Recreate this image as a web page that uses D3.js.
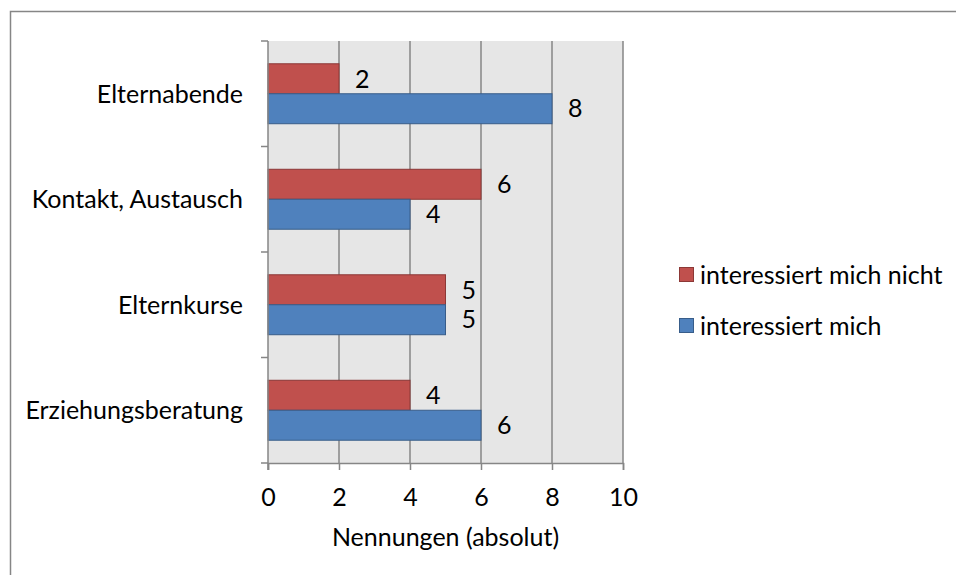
<!DOCTYPE html>
<html>
<head>
<meta charset="utf-8">
<script src="https://cdn.jsdelivr.net/npm/d3@7"></script>
<style>
  body { margin: 0; background: #fff; }
  text { font-family: Lato, "Open Sans", sans-serif; fill: #000; }
</style>
</head>
<body>
<div id="chart"></div>
<script>
const categories = ["Elternabende", "Kontakt, Austausch", "Elternkurse", "Erziehungsberatung"]
const seriesNames = ["interessiert mich nicht", "interessiert mich"]
const nichtValues = [2, 6, 5, 4]
const michValues = [8, 4, 5, 6]
const xTicks = [0, 2, 4, 6, 8, 10]

const W = 956, H = 575
const PLOT = { LEFT: 268, RIGHT: 623, TOP: 41, BOTTOM: 463 }
const FS = 25
const colors = ["#c0504d", "#4f81bd"]
const strokes = ["#8c3836", "#385d8a"]

const svg = d3.select("#chart").append("svg")
  .attr("width", W)
  .attr("height", H)

// outer chart border (runs off the right and bottom edges)
svg.append("rect")
  .attr("x", 10.5).attr("y", 11.5)
  .attr("width", W + 20).attr("height", H + 20)
  .attr("fill", "#fff")
  .attr("stroke", "#868686")
  .attr("stroke-width", 1.5)

const x = d3.scaleLinear()
  .domain([0, 10])
  .range([PLOT.LEFT, PLOT.RIGHT])

const y = d3.scaleBand()
  .domain(categories)
  .range([PLOT.TOP, PLOT.BOTTOM])
  .paddingInner(0)

const sub = d3.scaleBand()
  .domain(seriesNames)
  .range([0, y.bandwidth()])
  .paddingInner(0)
  .paddingOuter(0.76)

// plot background
svg.append("rect")
  .attr("x", PLOT.LEFT).attr("y", PLOT.TOP)
  .attr("width", PLOT.RIGHT - PLOT.LEFT)
  .attr("height", PLOT.BOTTOM - PLOT.TOP)
  .attr("fill", "#e6e6e6")

// vertical gridlines
svg.append("g").selectAll("line")
  .data(xTicks.slice(1))
  .enter().append("line")
  .attr("x1", d => x(d)).attr("x2", d => x(d))
  .attr("y1", PLOT.TOP).attr("y2", PLOT.BOTTOM)
  .attr("stroke", "#868686")
  .attr("stroke-width", 1.5)

// bars
const rows = categories.map((c, i) => ({ cat: c, values: [nichtValues[i], michValues[i]] }))

const group = svg.append("g").selectAll("g")
  .data(rows)
  .enter().append("g")
  .attr("transform", d => `translate(0, ${y(d.cat)})`)

group.selectAll("rect")
  .data(d => d.values.map((v, j) => ({ v: v, s: seriesNames[j], j: j })))
  .enter().append("rect")
  .attr("x", x(0))
  .attr("y", d => sub(d.s))
  .attr("width", d => x(d.v) - x(0))
  .attr("height", sub.bandwidth())
  .attr("fill", d => colors[d.j])
  .attr("stroke", d => strokes[d.j])
  .attr("stroke-width", 1)

group.selectAll("text")
  .data(d => d.values.map((v, j) => ({ v: v, s: seriesNames[j] })))
  .enter().append("text")
  .attr("x", d => x(d.v) + 16)
  .attr("y", d => sub(d.s) + sub.bandwidth() / 2)
  .attr("dy", "0.35em")
  .attr("font-size", FS)
  .text(d => d.v)

// x axis
const xAxis = svg.append("g")
  .attr("transform", `translate(0, ${PLOT.BOTTOM})`)
  .call(d3.axisBottom(x).tickValues(xTicks).tickSize(7).tickPadding(18))
xAxis.select(".domain").attr("stroke", "#868686").attr("stroke-width", 1.5)
xAxis.selectAll(".tick line").attr("stroke", "#868686").attr("stroke-width", 1.5)
xAxis.selectAll("text").attr("font-size", FS).attr("font-family", "Lato, 'Open Sans', sans-serif")

// y axis: ticks at band boundaries
const yAxisG = svg.append("g")
yAxisG.append("line")
  .attr("x1", x(0)).attr("x2", x(0))
  .attr("y1", PLOT.TOP).attr("y2", PLOT.BOTTOM + 7)
  .attr("stroke", "#868686").attr("stroke-width", 1.5)
const bounds = categories.map(c => y(c)).concat([PLOT.BOTTOM])
yAxisG.selectAll(".yt")
  .data(bounds)
  .enter().append("line")
  .attr("x1", x(0) - 7).attr("x2", x(0))
  .attr("y1", d => d).attr("y2", d => d)
  .attr("stroke", "#868686").attr("stroke-width", 1.5)
yAxisG.selectAll(".yl")
  .data(categories)
  .enter().append("text")
  .attr("x", 243)
  .attr("y", d => y(d) + y.bandwidth() / 2)
  .attr("dy", "0.35em")
  .attr("text-anchor", "end")
  .attr("font-size", FS)
  .text(d => d)

// axis title
svg.append("text")
  .attr("x", (PLOT.LEFT + PLOT.RIGHT) / 2)
  .attr("y", 546)
  .attr("text-anchor", "middle")
  .attr("font-size", FS)
  .text("Nennungen (absolut)")

// legend
const legend = svg.append("g").attr("transform", "translate(679, 267)")
const legendRow = legend.selectAll("g")
  .data(seriesNames)
  .enter().append("g")
  .attr("transform", (d, i) => `translate(0, ${i * 51})`)
legendRow.append("rect")
  .attr("x", 0.5).attr("y", 0.5)
  .attr("width", 14).attr("height", 14)
  .attr("fill", (d, i) => colors[i])
  .attr("stroke", (d, i) => strokes[i])
legendRow.append("text")
  .attr("x", 21)
  .attr("y", 8)
  .attr("dy", "0.35em")
  .attr("font-size", FS)
  .text(d => d)
</script>
</body>
</html>
